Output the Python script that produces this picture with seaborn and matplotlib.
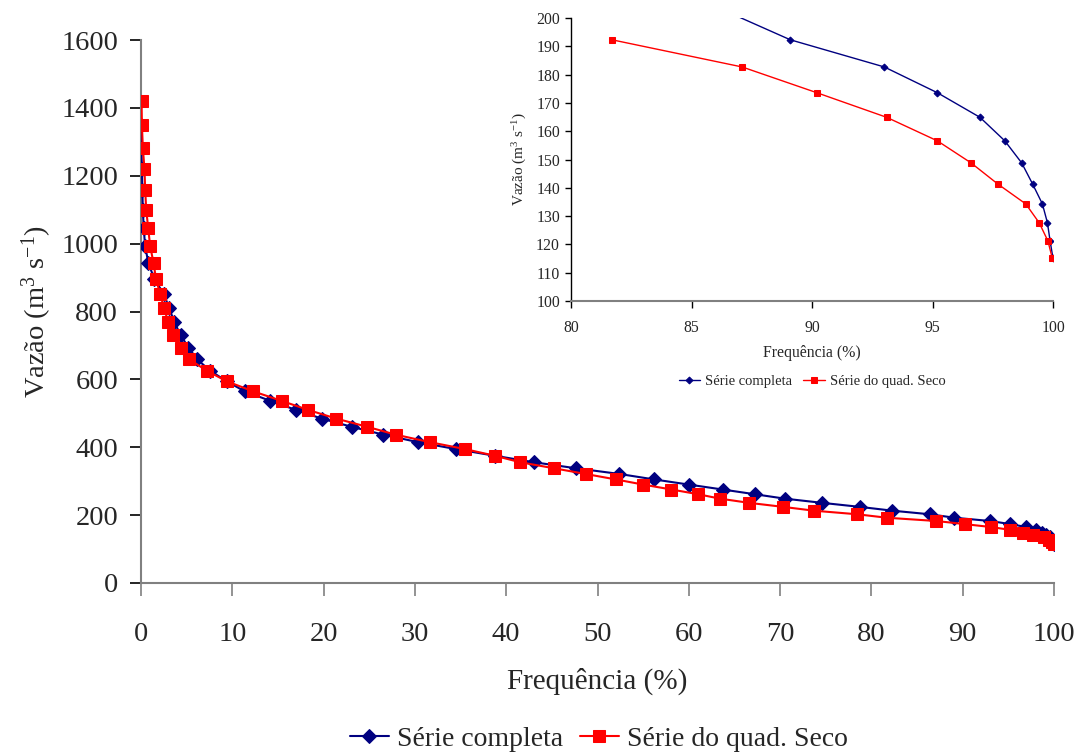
import numpy as np
import pandas as pd
import matplotlib
matplotlib.use("Agg")
import matplotlib.pyplot as plt
import seaborn as sns

# Discharge classes (m3 s-1), shared by both series
vazao = [1421.0, 1350.0, 1283.0, 1219.0, 1158.0, 1100.0, 1045.0, 993.0, 943.5, 896.3,
         851.5, 808.9, 768.5, 730.0, 693.5, 658.9, 625.9, 594.6, 564.9, 536.6,
         509.8, 484.3, 460.1, 437.1, 415.2, 394.5, 374.7, 356.0, 338.2, 321.3,
         305.2, 290.0, 275.5, 261.7, 248.6, 236.2, 224.4, 213.1, 202.5, 192.3,
         182.7, 173.6, 164.9, 156.6, 148.8, 141.4, 134.3, 127.6, 121.2, 115.1]

# Exceedance frequency (%) - full series (starts at second class)
freq_completa = [0.02, 0.05, 0.10, 0.15, 0.20, 0.30, 0.45, 0.80, 1.45,
                 2.50, 3.10, 3.65, 4.35, 5.20, 6.16, 7.55, 9.37, 11.35, 14.17,
                 17.0, 19.8, 23.1, 26.55, 30.3, 34.5, 38.8, 43.0, 47.6, 52.4,
                 56.2, 60.0, 63.7, 67.2, 70.5, 74.6, 78.7, 82.3, 86.4, 89.1,
                 93.0, 95.2, 96.97, 98.0, 98.7, 99.15, 99.56, 99.77, 99.88, 100.0]
vazao_completa = vazao[1:]

# Exceedance frequency (%) - dry-quadrennium series
freq_seco = [0.06, 0.10, 0.20, 0.38, 0.46, 0.57, 0.79, 1.00, 1.37, 1.64,
             2.10, 2.54, 2.98, 3.53, 4.36, 5.30, 7.18, 9.37, 12.27, 15.4,
             18.33, 21.4, 24.8, 27.9, 31.6, 35.5, 38.8, 41.5, 45.2, 48.7,
             52.0, 55.0, 58.1, 61.0, 63.4, 66.6, 70.3, 73.7, 78.45, 81.7,
             87.1, 90.2, 93.1, 95.2, 96.6, 97.7, 98.87, 99.43, 99.79, 99.97]
vazao_seco = vazao

label_completa = "Série completa"
label_seco = "Série do quad. Seco"

# inset range (zoom on low flows)
inset_xmin, inset_xmax = 80, 100
inset_ymin, inset_ymax = 100, 200

df_c = pd.DataFrame({"freq": freq_completa, "vazao": vazao_completa})
df_s = pd.DataFrame({"freq": freq_seco, "vazao": vazao_seco})
df_c_in = df_c[df_c["freq"] >= inset_xmin]
df_s_in = df_s[df_s["freq"] >= inset_xmin]

sns.set_theme(style="white")
plt.rcParams["font.family"] = ["Liberation Serif", "DejaVu Serif"]
plt.rcParams["mathtext.fontset"] = "custom"
plt.rcParams["mathtext.rm"] = "Liberation Serif"
plt.rcParams["mathtext.it"] = "Liberation Serif:italic"

BLUE = "#000080"
RED = "#FF0000"
GRAY = "#808080"

fig = plt.figure(figsize=(10.79, 7.53), dpi=100)
fig.patch.set_facecolor("white")

# ---------------- main axes ----------------
ax = fig.add_axes([141/1079, 1-583/753, 913/1079, 543/753])
sns.lineplot(data=df_c, x="freq", y="vazao", ax=ax, sort=False, estimator=None,
             color=BLUE, lw=1.5, marker="D", markersize=7, markeredgecolor=BLUE,
             label=label_completa, zorder=3)
sns.lineplot(data=df_s, x="freq", y="vazao", ax=ax, sort=False, estimator=None,
             color=RED, lw=1.5, marker="s", markersize=9, markeredgecolor=RED,
             label=label_seco, zorder=4)
ax.set_xlim(0, 100)
ax.set_ylim(0, 1600)
ax.set_xticks(np.arange(0, 101, 10))
ax.set_yticks(np.arange(0, 1601, 200))
for s in ["top", "right"]:
    ax.spines[s].set_visible(False)
for s in ["left", "bottom"]:
    ax.spines[s].set_color(GRAY)
    ax.spines[s].set_linewidth(1.5)
ax.tick_params(axis="y", direction="out", length=8, width=1.2, color="black",
               pad=8.5, labelsize=20.5, left=True)
ax.tick_params(axis="x", direction="out", length=9, width=1.2, color=GRAY,
               pad=19, labelsize=20.5, bottom=True)
ax.set_xlabel("Frequência (%)", fontsize=21, labelpad=15)
ax.set_ylabel("Vazão (m$^{3}$ s$^{-1}$)", fontsize=20.5, labelpad=5)
ax.grid(False)
ax.legend_.remove()
h, l = ax.get_legend_handles_labels()
fig.legend(h, l, loc="center", bbox_to_anchor=(599/1079, 1-739/753), ncol=2,
           frameon=False, fontsize=20, handlelength=1.4, handletextpad=0.3,
           columnspacing=0.6)

# ---------------- inset axes ----------------
ins = fig.add_axes([571/1079, 1-301/753, 482/1079, 283/753])
sns.lineplot(data=df_c_in, x="freq", y="vazao", ax=ins, sort=False, estimator=None,
             color=BLUE, lw=1.0, marker="D", markersize=3.5, markeredgecolor=BLUE,
             label=label_completa, zorder=3)
sns.lineplot(data=df_s_in, x="freq", y="vazao", ax=ins, sort=False, estimator=None,
             color=RED, lw=1.0, marker="s", markersize=4, markeredgecolor=RED,
             label=label_seco, zorder=4)
ins.set_xlim(inset_xmin, inset_xmax)
ins.set_ylim(inset_ymin, inset_ymax)
ins.set_xticks(np.arange(80, 101, 5))
ins.set_yticks(np.arange(100, 201, 10))
ins.set_facecolor("none")
for s in ["top", "right"]:
    ins.spines[s].set_visible(False)
ins.spines["left"].set_color("black")
ins.spines["bottom"].set_color(GRAY)
ins.spines["left"].set_linewidth(1.0)
ins.spines["bottom"].set_linewidth(1.5)
ins.tick_params(axis="y", direction="out", length=4, width=1, color="black",
                pad=4, labelsize=11.3, left=True)
ins.tick_params(axis="x", direction="out", length=5, width=1, color="black",
                pad=9, labelsize=11.3, bottom=True)
ins.set_xlabel("Frequência (%)", fontsize=11.3, labelpad=6)
ins.set_ylabel("Vazão (m$^{3}$ s$^{-1}$)", fontsize=11, labelpad=5)
ins.grid(False)
ins.legend_.remove()
h2, l2 = ins.get_legend_handles_labels()
fig.legend(h2, l2, loc="center", bbox_to_anchor=(812/1079, 1-381/753), ncol=2,
           frameon=False, fontsize=10.5, handlelength=1.5, handletextpad=0.3,
           columnspacing=0.8)

fig.savefig("out.png", dpi=100, facecolor="white")
